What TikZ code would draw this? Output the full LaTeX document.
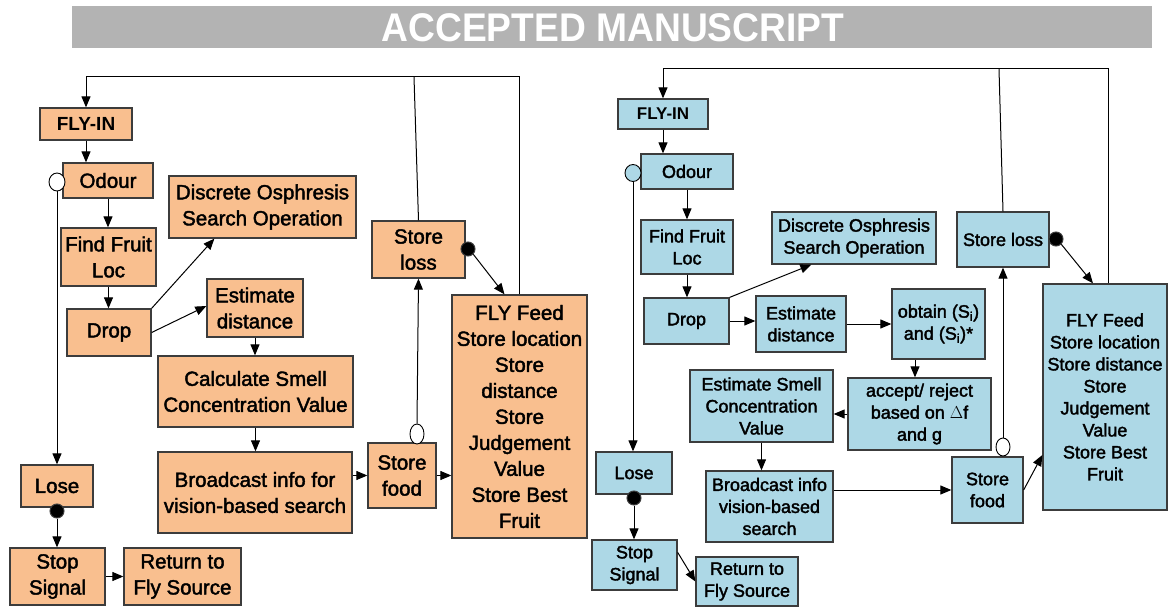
\documentclass[tikz,border=0pt]{standalone}
\usepackage{fontspec}
\setmainfont{Liberation Sans}
\newfontfamily\medfont{Liberation Sans}[FakeBold=2]
\usetikzlibrary{arrows.meta,shapes.geometric}
\definecolor{orfill}{RGB}{249,191,143}
\definecolor{blfill}{RGB}{173,216,230}
\definecolor{bordc}{RGB}{60,60,60}
\definecolor{hdrgrey}{RGB}{179,179,179}
\tikzset{
  box/.style={draw=bordc, line width=1.3pt, align=center, inner sep=0pt},
  obox/.style={box, fill=orfill, font=\medfont\fontsize{20.5}{26}\selectfont},
  bbox/.style={box, fill=blfill, font=\medfont\fontsize{18}{22}\selectfont},
  conn/.style={draw=black, line width=1pt},
  arr/.style={conn, -{Triangle[length=11pt,width=9pt]}},
  opencirc/.style={ellipse, draw=black, line width=0.9pt, fill=white, inner sep=0pt},
  dotc/.style={circle, draw=bordc, line width=1pt, fill=black, inner sep=0pt, minimum size=14pt},
}
\begin{document}
\begin{tikzpicture}[x=1pt,y=-1pt]
\useasboundingbox (0,0) rectangle (1168,607);
% header
\node[fill=hdrgrey, minimum width=1080pt, minimum height=42pt, inner sep=0pt] (hdr) at (612,27) {};
\node[text=white, font=\fontsize{40}{40}\selectfont\bfseries, xscale=0.93] (title) at (613,28) {ACCEPTED MANUSCRIPT};

% ---------------- left (orange) ----------------
\node[obox, font=\fontsize{19}{24}\selectfont\bfseries, minimum width=92pt, minimum height=32pt] (flyinL) at (86,124) {FLY-IN};
\node[obox, minimum width=90pt, minimum height=35pt] (odourL) at (108,180.5) {Odour};
\node[obox, minimum width=95pt, minimum height=58pt] (findL) at (108.5,257) {Find Fruit\\Loc};
\node[obox, minimum width=84pt, minimum height=47pt] (dropL) at (109,332.5) {Drop};
\node[obox, minimum width=187pt, minimum height=62pt] (discL) at (262.5,207) {Discrete Osphresis\\Search Operation};
\node[obox, minimum width=96pt, minimum height=58pt] (estL) at (255,308) {Estimate\\distance};
\node[obox, minimum width=195pt, minimum height=71pt] (calcL) at (255.5,391.5) {Calculate Smell\\Concentration Value};
\node[obox, minimum width=194pt, minimum height=81pt] (bcastL) at (255,492.5) {Broadcast info for\\vision-based search};
\node[obox, minimum width=72pt, minimum height=42pt] (loseL) at (57,486) {Lose};
\node[obox, minimum width=95pt, minimum height=57pt] (stopL) at (57.5,576.5) {Stop\\Signal};
\node[obox, minimum width=117pt, minimum height=57pt] (retL) at (182.5,576.5) {Return to\\Fly Source};
\node[obox, minimum width=93pt, minimum height=57pt] (lossL) at (418.5,249.5) {Store\\loss};
\node[obox, minimum width=68pt, minimum height=65pt] (foodL) at (402,475.5) {Store\\food};
\node[obox, minimum width=135pt, minimum height=243pt] (feedL) at (519.5,416.5) {FLY Feed\\Store location\\Store\\distance\\Store\\Judgement\\Value\\Store Best\\Fruit};

\node[opencirc, minimum width=16pt, minimum height=18pt] (ocL1) at (57,182) {};
\node[opencirc, minimum width=14pt, minimum height=20pt] (ocL2) at (417,434) {};
\node[dotc] (dL1) at (57,511) {};
\node[dotc] (dL2) at (468,249) {};

\coordinate (tL1) at (86,77);
\coordinate (tL2) at (414,77);
\coordinate (tL3) at (519,77);

\draw[arr] (tL3 |- feedL.north) -- (tL3) -- (tL1) -- (flyinL.north);
\draw[conn] (lossL.north) -- (tL2);
\draw[arr] (flyinL.south) -- (flyinL.south |- odourL.north);
\draw[arr] (odourL.south) -- (odourL.south |- findL.north);
\draw[arr] (findL.south) -- (findL.south |- dropL.north);
\draw[arr] (ocL1.south) -- (ocL1.south |- loseL.north);
\draw[arr] (dL1.south) -- (dL1.south |- stopL.north);
\draw[arr] (stopL.east) -- (stopL.east -| retL.west);
\draw[arr] (dropL.north east) -- ([xshift=46pt]discL.south west);
\draw[arr] (dropL.east) -- ([yshift=2pt]estL.west);
\draw[arr] (estL.south) -- (estL.south |- calcL.north);
\draw[arr] (calcL.south) -- (calcL.south |- bcastL.north);
\draw[arr] (bcastL.east |- foodL.west) -- (foodL.west);
\draw[arr] (foodL.east) -- (foodL.east -| feedL.west);
\draw[arr] (ocL2.north) -- (lossL.south);
\draw[arr] (dL2.south east) -- ([xshift=-15pt]feedL.north);

% ---------------- right (blue) ----------------
\node[bbox, font=\fontsize{17}{22}\selectfont\bfseries, minimum width=90pt, minimum height=30pt] (flyinR) at (663,114) {FLY-IN};
\node[bbox, minimum width=92pt, minimum height=35pt] (odourR) at (687,171.5) {Odour};
\node[bbox, minimum width=92pt, minimum height=54pt] (findR) at (687,247) {Find Fruit\\Loc};
\node[bbox, minimum width=85pt, minimum height=46pt] (dropR) at (686.5,321) {Drop};
\node[bbox, minimum width=164pt, minimum height=52pt] (discR) at (854,238) {Discrete Osphresis\\Search Operation};
\node[bbox, minimum width=90pt, minimum height=56pt] (estR) at (801,324) {Estimate\\distance};
\node[bbox, minimum width=93pt, minimum height=70pt] (obtR) at (938.5,324) {obtain (S\textsubscript{i})\\and (S\textsubscript{i})*};
\node[bbox, minimum width=143pt, minimum height=72pt] (accR) at (919.5,414) {accept/ reject\\based on $\Delta$f\\and g};
\node[bbox, minimum width=143pt, minimum height=72pt] (smellR) at (761.5,406) {Estimate Smell\\Concentration\\Value};
\node[bbox, minimum width=127pt, minimum height=71pt] (bcastR) at (769.5,506.5) {Broadcast info\\vision-based\\search};
\node[bbox, minimum width=76pt, minimum height=42pt] (loseR) at (634,473) {Lose};
\node[bbox, minimum width=85pt, minimum height=50pt] (stopR) at (634.5,565) {Stop\\Signal};
\node[bbox, minimum width=102pt, minimum height=49pt] (retR) at (747,581.5) {Return to\\Fly Source};
\node[bbox, minimum width=92pt, minimum height=55pt] (lossR) at (1003,239.5) {Store loss};
\node[bbox, minimum width=71pt, minimum height=66pt] (foodR) at (987.5,490) {Store\\food};
\node[bbox, minimum width=124pt, minimum height=226pt] (feedR) at (1105,397) {FLY Feed\\Store location\\Store distance\\Store\\Judgement\\Value\\Store Best\\Fruit};

\node[opencirc, fill=blfill, minimum width=16pt, minimum height=17pt] (ocR1) at (633,173) {};
\node[opencirc, minimum width=14pt, minimum height=18pt] (ocR2) at (1003,447) {};
\node[dotc] (dR1) at (634,498) {};
\node[dotc] (dR2) at (1056,239) {};

\coordinate (tR1) at (663,69);
\coordinate (tR2) at (999,69);
\coordinate (tR3) at (1108,69);

\draw[arr] (tR3 |- feedR.north) -- (tR3) -- (tR1) -- (flyinR.north);
\draw[conn] (lossR.north) -- (tR2);
\draw[arr] (flyinR.south) -- (flyinR.south |- odourR.north);
\draw[arr] (odourR.south) -- (odourR.south |- findR.north);
\draw[arr] (findR.south) -- (findR.south |- dropR.north);
\draw[arr] (ocR1.south) -- (ocR1.south |- loseR.north);
\draw[arr] (dR1.south) -- (dR1.south |- stopR.north);
\draw[arr] ([yshift=-13pt]stopR.north east) -- (retR.west);
\draw[arr] (dropR.north east) -- ([xshift=40pt]discR.south west);
\draw[arr] (dropR.east) -- (dropR.east -| estR.west);
\draw[arr] (estR.east) -- (obtR.west);
\draw[arr] ([xshift=-23.5pt]obtR.south) -- ([xshift=-23.5pt]obtR.south |- accR.north);
\draw[arr] (accR.west) -- (accR.west -| smellR.east);
\draw[arr] (smellR.south) -- (smellR.south |- bcastR.north);
\draw[arr] (bcastR.east |- foodR.west) -- (foodR.west);
\draw[arr] (foodR.east) -- ([yshift=-58pt]feedR.west);
\draw[arr] (ocR2.north) -- (lossR.south);
\draw[arr] (dR2.south east) -- ([xshift=-12pt]feedR.north);
\end{tikzpicture}
\end{document}
